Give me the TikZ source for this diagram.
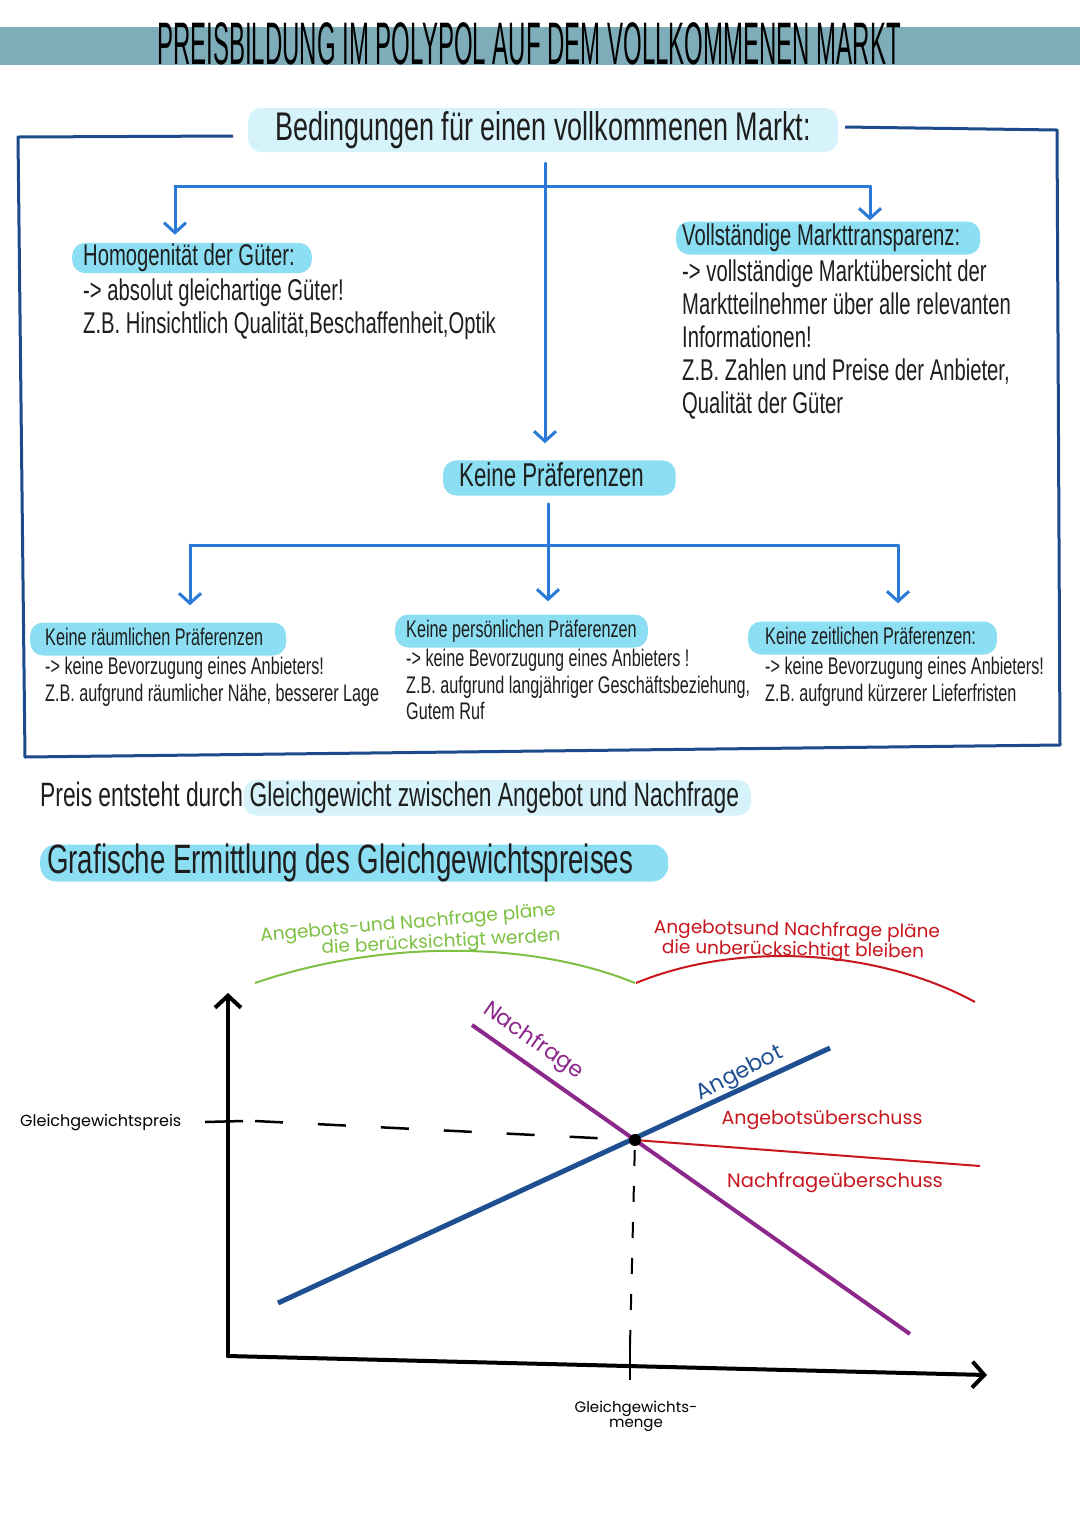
\documentclass[tikz,border=0pt]{standalone}
\usepackage{fontspec}
\setmainfont{Liberation Sans}[FakeStretch=0.675]
\newfontfamily\titlefont{Liberation Sans}[FakeStretch=0.40]
\newfontfamily\handfont{Poppins}
\usetikzlibrary{arrows.meta}
\definecolor{band}{RGB}{126,172,184}
\definecolor{hllight}{RGB}{214,242,250}
\definecolor{hlcyan}{RGB}{140,222,242}
\definecolor{treeblue}{RGB}{43,122,216}
\definecolor{boxblue}{RGB}{28,74,138}
\definecolor{ink}{RGB}{30,30,30}
\definecolor{supply}{RGB}{30,80,145}
\definecolor{demand}{RGB}{140,40,140}
\definecolor{redc}{RGB}{200,22,30}
\definecolor{greenc}{RGB}{125,192,66}
\begin{document}
\begin{tikzpicture}[x=1pt,y=-1pt,
  hl/.style={rounded corners=13pt, text=ink},
  txt/.style={text=ink, align=left, inner sep=0pt, anchor=north west},
  tree/.style={draw=treeblue, line width=3pt, line cap=round},
  arr/.style={tree, -{Straight Barb[length=10pt,width=22pt]}},
  hand/.style={font=\handfont\fontsize{#1}{#1}\selectfont, inner sep=0pt},
  axis/.style={draw=black, line width=4pt, line cap=round, -{Straight Barb[length=12pt,width=26pt]}}
]
\useasboundingbox (0,0) rectangle (1080,1527);
\fill[white] (0,0) rectangle (1080,1527);
% title band
\fill[band] (0,27) rectangle (1080,65);
\node[font=\titlefont\fontsize{60}{60}\selectfont, text=black, anchor=base, inner sep=0pt] (title) at (529,64) {PREISBILDUNG IM POLYPOL AUF DEM VOLLKOMMENEN MARKT};
% frame
\draw[boxblue, line width=3pt, line join=round] (233,136) -- (18,137) -- (25,757) -- (1060,745) -- (1057,130) -- (845,127);
% header
\node[hl, fill=hllight, font=\fontsize{40}{44}\selectfont, text height=28.8pt, text depth=8.8pt, inner xsep=27pt, inner ysep=3.2pt] (hdr) at (543,130) {Bedingungen für einen vollkommenen Markt:};
% level 1
\node[hl, fill=hlcyan, font=\fontsize{30}{33}\selectfont, text height=21.6pt, text depth=6.6pt, anchor=west, inner xsep=11pt, inner ysep=1pt] (homog) at (72,258) {Homogenität der Güter:\hspace*{6pt}};
\node[txt, font=\fontsize{30}{33}\selectfont] (homogb) at (83,279) {-> absolut gleichartige Güter!\\Z.B. Hinsichtlich Qualität,Beschaffenheit,Optik};
\node[hl, fill=hlcyan, font=\fontsize{30}{33}\selectfont, text height=21.6pt, text depth=6.6pt, anchor=west, inner xsep=6pt, inner ysep=2.4pt] (transp) at (676,238) {Vollständige Markttransparenz:\hspace*{14pt}};
\node[txt, font=\fontsize{30}{33}\selectfont] (transpb) at (682,260) {-> vollständige Marktübersicht der\\Marktteilnehmer über alle relevanten\\Informationen!\\Z.B. Zahlen und Preise der Anbieter,\\Qualität der Güter};
\node[hl, fill=hlcyan, font=\fontsize{33}{36}\selectfont, text height=23.8pt, text depth=7.3pt, anchor=west, inner xsep=16pt, inner ysep=2pt] (kp) at (443,478) {Keine Präferenzen\hspace*{16pt}};
% tree 1
\coordinate (ta) at (545,163);
\coordinate (tl) at (175,186);
\coordinate (tr) at (870,186);
\draw[tree] (tl) -- (tr);
\draw[arr, shorten >=17pt] (ta) -- (ta |- kp.north);
\draw[arr, shorten >=8pt] (tl) -- (tl |- homog.north);
\draw[arr, shorten >=1pt] (tr) -- (tr |- transp.north);
% level 2
\node[hl, fill=hlcyan, font=\fontsize{24}{27}\selectfont, text height=17.3pt, text depth=5.3pt, anchor=west, inner xsep=15pt, inner ysep=5.2pt] (kr) at (30,639) {Keine räumlichen Präferenzen\hspace*{8pt}};
\node[txt, font=\fontsize{24}{27}\selectfont] (krb) at (45,657) {-> keine Bevorzugung eines Anbieters!\\Z.B. aufgrund räumlicher Nähe, besserer Lage};
\node[hl, fill=hlcyan, font=\fontsize{24}{27}\selectfont, text height=17.3pt, text depth=5.3pt, anchor=west, inner xsep=11pt, inner ysep=5.2pt] (kpers) at (395,631) {Keine persönlichen Präferenzen};
\node[txt, font=\fontsize{24}{26.5}\selectfont] (kpersb) at (406,649) {-> keine Bevorzugung eines Anbieters !\\Z.B. aufgrund langjähriger Geschäftsbeziehung,\\Gutem Ruf};
\node[hl, fill=hlcyan, font=\fontsize{24}{27}\selectfont, text height=17.3pt, text depth=5.3pt, anchor=west, inner xsep=17pt, inner ysep=5.2pt] (kz) at (748,638) {Keine zeitlichen Präferenzen:\hspace*{4pt}};
\node[txt, font=\fontsize{24}{27}\selectfont] (kzb) at (765,657) {-> keine Bevorzugung eines Anbieters!\\Z.B. aufgrund kürzerer Lieferfristen};
% tree 2
\coordinate (tm) at (548,545);
\coordinate (ul) at (190,545);
\coordinate (ur) at (898,545);
\draw[tree] (ul) -- (ur);
\draw[arr, shorten <=8pt, shorten >=13pt] (kp.south -| tm) -- (tm |- kpers.north);
\draw[arr, shorten >=17pt] (ul) -- (ul |- kr.north);
\draw[arr, shorten >=18pt] (ur) -- (ur |- kz.north);
% sentence
\node[font=\fontsize{33.8}{36}\selectfont, text=ink, anchor=base west, inner sep=0pt] (pre) at (40,806) {Preis entsteht durch};
\node[hl, fill=hllight, font=\fontsize{33.8}{36}\selectfont, text height=24pt, text depth=7.5pt, anchor=base west, inner xsep=6pt, inner ysep=2pt] (gg) at (pre.base east) {Gleichgewicht zwischen Angebot und Nachfrage\hspace*{6pt}};
\node[hl, fill=hlcyan, font=\fontsize{41}{44}\selectfont, text height=28.5pt, text depth=8.5pt, anchor=west, inner xsep=7pt, inner ysep=0pt, rounded corners=16pt] (graf) at (40,863) {Grafische Ermittlung des Gleichgewichtspreises\hspace*{28pt}};
% graph
\coordinate (O) at (228,1356);
\coordinate (ytop) at (228,993);
\coordinate (xend) at (987,1375);
\coordinate (eq) at (635,1140);
\draw[axis] (O) -- (ytop);
\draw[axis] (O) -- (xend);
% arcs
\draw[greenc, line width=2pt] (255,983) .. controls (380,940) and (530,940) .. (635,983);
\draw[redc, line width=2pt] (636,983) .. controls (740,940) and (880,950) .. (975,1002);
\node[hand=18.5, text=greenc, rotate=5] (g1) at (408,924) {Angebots-und Nachfrage pläne};
\node[hand=18.5, text=greenc, rotate=3] (g2) at (441,943) {die berücksichtigt werden};
\node[hand=18.5, text=redc, rotate=-1] (r1) at (797,931) {Angebotsund Nachfrage pläne};
\node[hand=18.5, text=redc, rotate=-1] (r2) at (793,951) {die unberücksichtigt bleiben};
% price / quantity markers
\node[hand=16, anchor=west] (gp) at (20,1123) {Gleichgewichtspreis};
\coordinate (tp1) at (205,1122);
\coordinate (tp2) at (243,1121);
\draw[black, line width=2.5pt] (tp1) -- (tp2);
\coordinate (d1) at (255,1121);
\draw[black, line width=2.5pt, dash pattern=on 28pt off 35pt] (d1) -- (eq);
\coordinate (tq1) at (630,1345);
\coordinate (tq2) at (630,1380);
\draw[black, line width=2pt] (tq1) -- (tq2);
\draw[black, line width=2pt, dash pattern=on 16pt off 20pt, shorten <=10pt] (eq) -- (tq1);
\node[hand=15, align=center] (gm) at (636,1416) {Gleichgewichts-\\menge};
% curves
\coordinate (s1) at (278,1303);
\coordinate (s2) at (830,1048);
\coordinate (n1) at (472,1025);
\coordinate (n2) at (910,1334);
\coordinate (rx) at (980,1166);
\draw[redc, line width=2pt] (eq) -- (rx);
\draw[supply, line width=5pt] (s1) -- (s2);
\draw[demand, line width=4pt] (n1) -- (n2);
\fill[black] (eq) circle (6pt);
\node[hand=22, text=demand, rotate=-35] (nl) at (533,1041) {Nachfrage};
\node[hand=22, text=supply, rotate=27] (al) at (740,1074) {Angebot};
\node[hand=19, text=redc] (au) at (822,1120) {Angebotsüberschuss};
\node[hand=19.5, text=redc] (nu) at (835,1183) {Nachfrageüberschuss};
\end{tikzpicture}
\end{document}
